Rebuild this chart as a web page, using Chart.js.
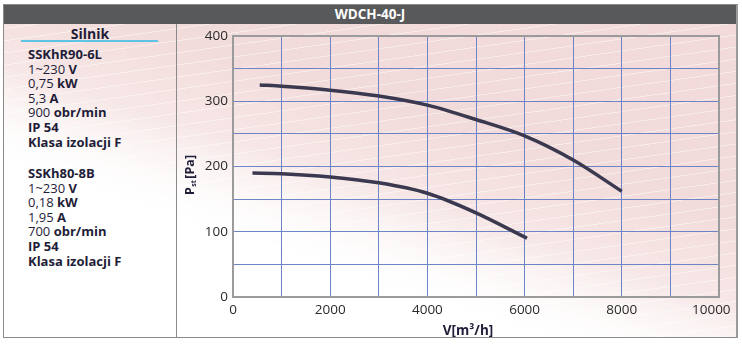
<!DOCTYPE html>
<html>
<head>
<meta charset="utf-8">
<script src="https://cdn.jsdelivr.net/npm/chart.js@4.4.1/dist/chart.umd.min.js"></script>
<style>
    html, body { margin: 0; padding: 0; background: #fff; }
    body { width: 742px; height: 344px; position: relative; overflow: hidden; font-family: 'Open Sans', sans-serif; }
    #card {
        position: absolute; left: 3px; top: 4px; width: 732px; height: 332px;
        border: 1px solid #8a8a8a; border-right: 2px solid #9a9a9a;
        background:
            repeating-linear-gradient(172deg, rgba(255,255,255,0) 0 11px, rgba(255,255,255,0.45) 11px 12px),
            linear-gradient(18deg, #ffffff 28%, #f7e9e8 45%, #f2dcdb 62%, #f1dad9 100%);
        overflow: hidden;
    }
    #card::before {
        content: ''; position: absolute; left: 0; top: 0; width: 100%; height: 100%;
        background: linear-gradient(18deg, #ffffff 30%, rgba(255,255,255,0) 48%);
    }
    #titlebar {
        position: absolute; left: 0; top: 0; width: 100%; height: 19px;
        background: #58595b; color: #fff; font-weight: bold; font-size: 13.5px;
        text-align: center; line-height: 19px;
    }
    #divider { position: absolute; left: 172px; top: 19px; width: 1px; height: 313px; background: #8a8a8a; }
    #motors { position: absolute; left: 0; top: 19px; width: 172px; color: #1f1d38; font-size: 13px; }
    #motors .head { position: absolute; left: 0; top: 0; width: 172px; text-align: center; font-weight: bold; font-size: 14px; }
    #motors .rule { position: absolute; left: 17px; top: 16px; width: 137px; height: 2px; background: #5ec4e6; }
    #motors .block { position: absolute; left: 24px; line-height: 14.6px; white-space: nowrap; }
    #motors b { font-weight: bold; }
    #chartBox { position: absolute; left: 177px; top: 22px; width: 559px; height: 315px; }
</style>
</head>
<body>
<div id="card">
    <div id="titlebar">WDCH-40-J</div>
    <div id="divider"></div>
    <div id="motors">
        <div class="head">Silnik</div>
        <div class="rule"></div>
        <div class="block" style="top:23px">
            <b>SSKhR90-6L</b><br>1~230 <b>V</b><br>0,75 <b>kW</b><br>5,3 <b>A</b><br>900 <b>obr/min</b><br><b>IP 54</b><br><b>Klasa izolacji F</b>
        </div>
        <div class="block" style="top:142px">
            <b>SSKh80-8B</b><br>1~230 <b>V</b><br>0,18 <b>kW</b><br>1,95 <b>A</b><br>700 <b>obr/min</b><br><b>IP 54</b><br><b>Klasa izolacji F</b>
        </div>
    </div>
</div>
<div id="chartBox"><canvas id="fanChart" width="559" height="315"></canvas></div>

<script>
// Airflow [m3/h] and static pressure [Pa] for both motors
const flowHigh = [550, 1000, 2000, 3000, 4000, 5000, 6000, 7000, 8000];
const pressHigh = [325, 323, 317, 308, 294, 272, 247, 210, 162];
const flowLow = [400, 1000, 2000, 3000, 4000, 5000, 6050];
const pressLow = [190, 189, 184, 175, 159, 129, 90];

const xTicks = [0, 2000, 4000, 6000, 8000, 10000];
const yTicks = [0, 100, 200, 300, 400];

const INK = '#1f1d38';
const GRID = '#6d85c6';
const TITLE_FONT = "bold 13.5px 'Open Sans', sans-serif";

const toPoints = (xs, ys) => xs.map((x, i) => ({ x, y: ys[i] }));

// Gray frame around the plot area
const plotFrame = {
    id: 'plotFrame',
    beforeDatasetsDraw(chart) {
        const { ctx, chartArea: a } = chart;
        ctx.save();
        ctx.strokeStyle = '#9b9b9b';
        ctx.lineWidth = 2;
        ctx.strokeRect(a.left, a.top, a.right - a.left, a.bottom - a.top);
        ctx.restore();
    }
};

// Axis titles: "V[m³/h]" under the x axis, rotated "P st [Pa]" with subscript
const axisTitles = {
    id: 'axisTitles',
    afterDraw(chart) {
        const { ctx } = chart;
        ctx.save();
        ctx.fillStyle = INK;
        ctx.textBaseline = 'middle';
        ctx.textAlign = 'center';
        ctx.font = TITLE_FONT;
        ctx.fillText('V[m³/h]', 291, 309);

        const big = "bold 12.5px 'Open Sans', sans-serif";
        const small = "bold 7px 'Open Sans', sans-serif";
        ctx.textAlign = 'left';
        ctx.translate(13, 153);
        ctx.rotate(-Math.PI / 2);
        ctx.font = big;
        const wP = ctx.measureText('P').width;
        const wPa = ctx.measureText('[Pa]').width;
        ctx.font = small;
        const wSt = ctx.measureText('st').width + 2;
        let x = -(wP + wSt + wPa) / 2;
        ctx.font = big;
        ctx.fillText('P', x, 0);
        x += wP;
        ctx.font = small;
        ctx.fillText('st', x + 0.5, 4);
        x += wSt;
        ctx.font = big;
        ctx.fillText('[Pa]', x, 0);
        ctx.restore();
    }
};

const curveStyle = {
    borderColor: '#3b3950',
    borderWidth: 3.5,
    pointRadius: 0,
    fill: false,
    cubicInterpolationMode: 'monotone',
    borderCapStyle: 'butt'
};

new Chart(document.getElementById('fanChart'), {
    type: 'line',
    data: {
        datasets: [
            { label: 'SSKhR90-6L', data: toPoints(flowHigh, pressHigh), ...curveStyle },
            { label: 'SSKh80-8B', data: toPoints(flowLow, pressLow), ...curveStyle }
        ]
    },
    options: {
        responsive: false,
        animation: false,
        layout: { padding: { top: 14, right: 17, left: 0, bottom: 0 } },
        plugins: {
            legend: { display: false },
            tooltip: { enabled: false }
        },
        scales: {
            x: {
                type: 'linear',
                min: 0,
                max: 10000,
                afterFit: (s) => { s.height = 40; s.paddingLeft = 0; s.paddingRight = 0; },
                border: { display: false },
                grid: { color: GRID, lineWidth: 1, drawTicks: false },
                ticks: {
                    stepSize: 1000,
                    padding: 5,
                    color: '#2a2a2a',
                    font: { family: "'Open Sans', sans-serif", size: 13.5 },
                    maxRotation: 0,
                    autoSkip: false,
                    // the last label is nudged left so it stays inside the frame
                    callback: (v) => !xTicks.includes(v) ? '' : (v === 10000 ? v + '\u2007\u2007' : String(v))
                }
            },
            y: {
                min: 0,
                max: 400,
                afterFit: (s) => { s.width = 56; s.paddingTop = 0; s.paddingBottom = 0; },
                border: { display: false },
                grid: { color: GRID, lineWidth: 1, drawTicks: false },
                ticks: {
                    stepSize: 50,
                    padding: 5,
                    color: '#2a2a2a',
                    font: { family: "'Open Sans', sans-serif", size: 13.5 },
                    autoSkip: false,
                    callback: (v) => yTicks.includes(v) ? String(v) : ''
                }
            }
        }
    },
    plugins: [plotFrame, axisTitles]
});
</script>
</body>
</html>
